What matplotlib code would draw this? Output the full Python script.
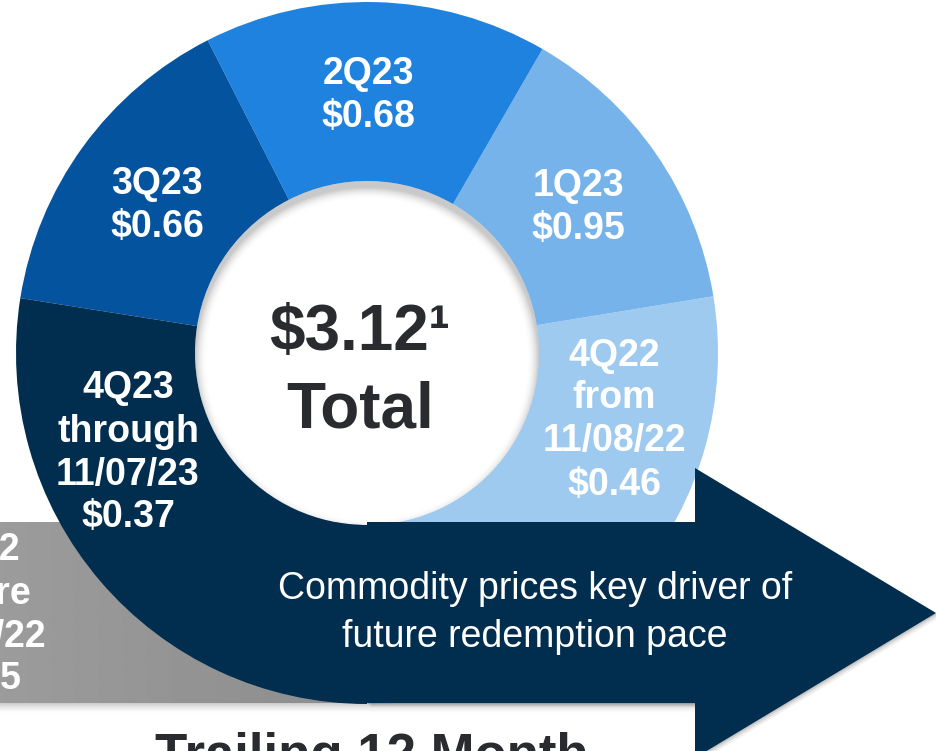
import numpy as np
import matplotlib.pyplot as plt
from matplotlib.patches import Circle, Polygon

# data
quarters = ['4Q22\nfrom\n11/08/22', '1Q23', '2Q23', '3Q23', '4Q23\nthrough\n11/07/23']
values = [0.46, 0.95, 0.68, 0.66, 0.37]
earlier_label = '4Q22\nbefore\n11/08/22'
earlier_value = 0.15
note = 'Commodity prices key driver of\nfuture redemption pace'
caption = 'Trailing 12 Month'

# layout (pixel units, y pointing up)
W, H = 936, 751
cx, cy = 367, H - 353        # ring centre
R, r = 351, 172              # outer / inner radius
seg_span = [99.3, 50.7, 57, 54, 99]   # degrees, counter-clockwise from the bottom
colors = ['#9ECAF0', '#76B3EB', '#1F82DE', '#03539E', '#012E4E']
label_xy = [(614, H - 420), (578, H - 208), (368, H - 95), (157, H - 205), (128, H - 453)]
navy = '#012E4E'
dark = '#2A2B2F'
font = 'Liberation Sans'

fig = plt.figure(figsize=(9.36, 7.51), dpi=100)
ax = fig.add_axes([0, 0, 1, 1])
ax.axis('off')

# grey box behind the ring (earlier period)
box_top, box_bot = H - 522, H - 703
grad = np.linspace(0.61, 0.55, 200).reshape(1, -1)
ax.imshow(grad, cmap='gray', vmin=0, vmax=1, extent=(0, cx, box_bot, box_top),
          aspect='auto', zorder=1)

# soft shadow under box + arrow body
sh = np.zeros((20, 2, 4))
sh[..., 3] = np.linspace(0, 0.35, 20)[:, None] ** 1.5
ax.imshow(sh, extent=(0, 700, box_bot - 11, box_bot), origin='lower', aspect='auto', zorder=0.9)

# white hole so the grey box does not show through
ax.add_patch(Circle((cx, cy), r, facecolor='white', edgecolor='none', zorder=1.5))

# ring
wedges, _ = ax.pie(seg_span, startangle=-90, counterclock=True, radius=R, center=(cx, cy),
                   colors=colors, wedgeprops=dict(width=R - r, edgecolor='none', linewidth=0))
for w in wedges:
    w.set_zorder(2)

# inner shadow of the hole
n = 400
xs = np.linspace(cx - r, cx + r, n)
ys = np.linspace(cy - r, cy + r, n)
X, Y = np.meshgrid(xs, ys)
d = r - np.hypot(X - cx, Y - (cy - 6))
img = np.zeros((n, n, 4))
img[..., :3] = 0.3
img[..., 3] = 0.3 * np.clip(1 - d / 12, 0, 1) ** 2
im = ax.imshow(img, extent=(cx - r, cx + r, cy - r, cy + r), origin='lower', zorder=2.5)
im.set_clip_path(Circle((cx, cy), r, transform=ax.transData))

# arrow
head_x, tip_x = 695, 936
body_top, body_bot = H - 522, H - 703
head_top, head_bot, tip_y = H - 468, H - 758, H - 613
arrow_pts = [(cx, body_top), (head_x, body_top), (head_x, head_top), (tip_x, tip_y),
             (head_x, head_bot), (head_x, body_bot), (cx, body_bot)]
for off, a in [(4, 0.06), (2.5, 0.08), (1.2, 0.1)]:
    ax.add_patch(Polygon([(x + off, y - off) for x, y in arrow_pts], closed=True,
                         facecolor='black', alpha=a, edgecolor='none', zorder=2.8))
ax.add_patch(Polygon(arrow_pts, closed=True, facecolor=navy, edgecolor='none', zorder=3))

# segment labels
for q, v, (x, y) in zip(quarters, values, label_xy):
    ax.text(x, y, f'{q}\n${v:.2f}', ha='center', va='center', color='white',
            fontsize=27, fontweight='bold', family=font, linespacing=1.25,
            zorder=5, parse_math=False)

ax.text(-26, H - 615, f'{earlier_label}\n${earlier_value:.2f}', ha='center', va='center',
        color='white', fontsize=27, fontweight='bold', family=font, linespacing=1.25,
        zorder=5, parse_math=False)

# centre total
total = sum(values)
ax.text(360, H - 350, f'${total:.2f}\u00b9', ha='center', va='baseline', color=dark,
        fontsize=46, fontweight='bold', family=font, zorder=5, parse_math=False)
ax.text(360, H - 427, 'Total', ha='center', va='baseline', color=dark,
        fontsize=46, fontweight='bold', family=font, zorder=5)

# arrow text
ax.text(535, H - 613, note, ha='center', va='center', color='white', fontsize=27,
        family=font, linespacing=1.4, zorder=5)

# caption (cut by the bottom edge)
ax.text(372, H - 771, caption, ha='center', va='baseline', color=dark, fontsize=38,
        fontweight='bold', family=font, zorder=5)

ax.set_xlim(0, W)
ax.set_ylim(0, H)
ax.set_aspect('auto')
fig.savefig('out.png', dpi=100)
